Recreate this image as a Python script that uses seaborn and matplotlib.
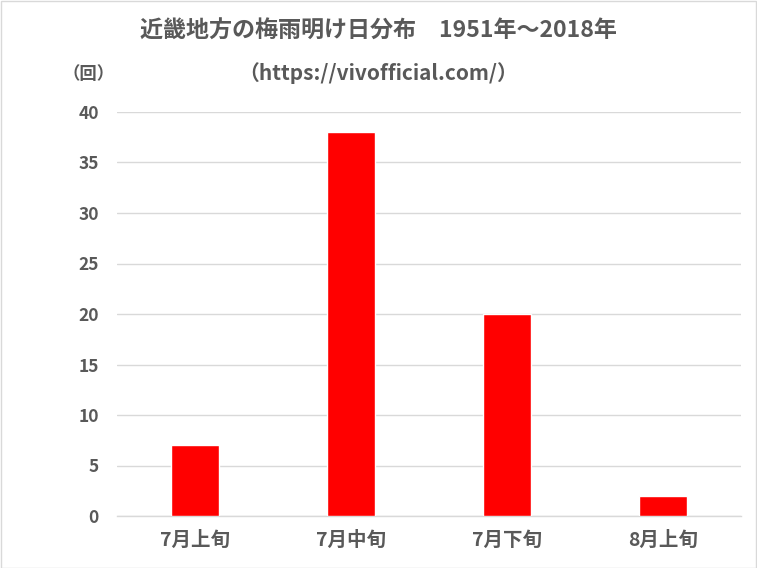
import matplotlib
matplotlib.use("Agg")
import matplotlib.pyplot as plt
import pandas as pd
import seaborn as sns

# data
categories = ["7月上旬", "7月中旬", "7月下旬", "8月上旬"]
counts = [7, 38, 20, 2]
y_ticks = [0, 5, 10, 15, 20, 25, 30, 35, 40]

title_line1 = "近畿地方の梅雨明け日分布　1951年～2018年"
title_line2 = "（https://vivofficial.com/）"
unit_label = "（回）"

sns.set_theme(style="white")
plt.rcParams["font.family"] = ["Noto Sans CJK JP", "DejaVu Sans"]
text_color = "#595959"
grid_color = "#d9d9d9"

df = pd.DataFrame({"period": categories, "count": counts})

fig = plt.figure(figsize=(7.57, 5.68), dpi=100)
ax = fig.add_axes([117 / 757, 1 - 516 / 568, 624 / 757, 404 / 568])

sns.barplot(data=df, x="period", y="count", color="#ff0000", width=0.31,
            saturation=1, ax=ax, zorder=3)

ax.set_ylim(0, 40)
ax.set_xlim(-0.5, len(categories) - 0.5)
ax.set_yticks(y_ticks)
ax.yaxis.grid(True, color=grid_color, linewidth=1, zorder=0)
ax.set_axisbelow(True)
for side in ["top", "right", "left"]:
    ax.spines[side].set_visible(False)
ax.spines["bottom"].set_color(grid_color)
ax.spines["bottom"].set_linewidth(1)
ax.set_xlabel("")
ax.set_ylabel("")
ax.tick_params(axis="both", length=0, colors=text_color)
ax.tick_params(axis="y", labelsize=12.5, pad=13)
ax.tick_params(axis="x", labelsize=14, pad=11)
for lbl in ax.get_xticklabels() + ax.get_yticklabels():
    lbl.set_fontweight("bold")

fig.text(378 / 757, 1 - 31 / 568, title_line1, ha="center", va="center",
         fontsize=16.6, fontweight="bold", color=text_color)
fig.text(378 / 757, 1 - 73 / 568, title_line2, ha="center", va="center",
         fontsize=15, fontweight="bold", color=text_color)
fig.text(89 / 757, 1 - 74 / 568, unit_label, ha="center", va="center",
         fontsize=12.5, fontweight="bold", color=text_color)

# light border round the whole chart area
border = plt.Rectangle((0.5 / 757, 0.5 / 568), 1 - 1.5 / 757, 1 - 1.5 / 568,
                       transform=fig.transFigure, fill=False,
                       edgecolor=grid_color, linewidth=1)
fig.patches.append(border)

fig.savefig("out.png", dpi=100)
